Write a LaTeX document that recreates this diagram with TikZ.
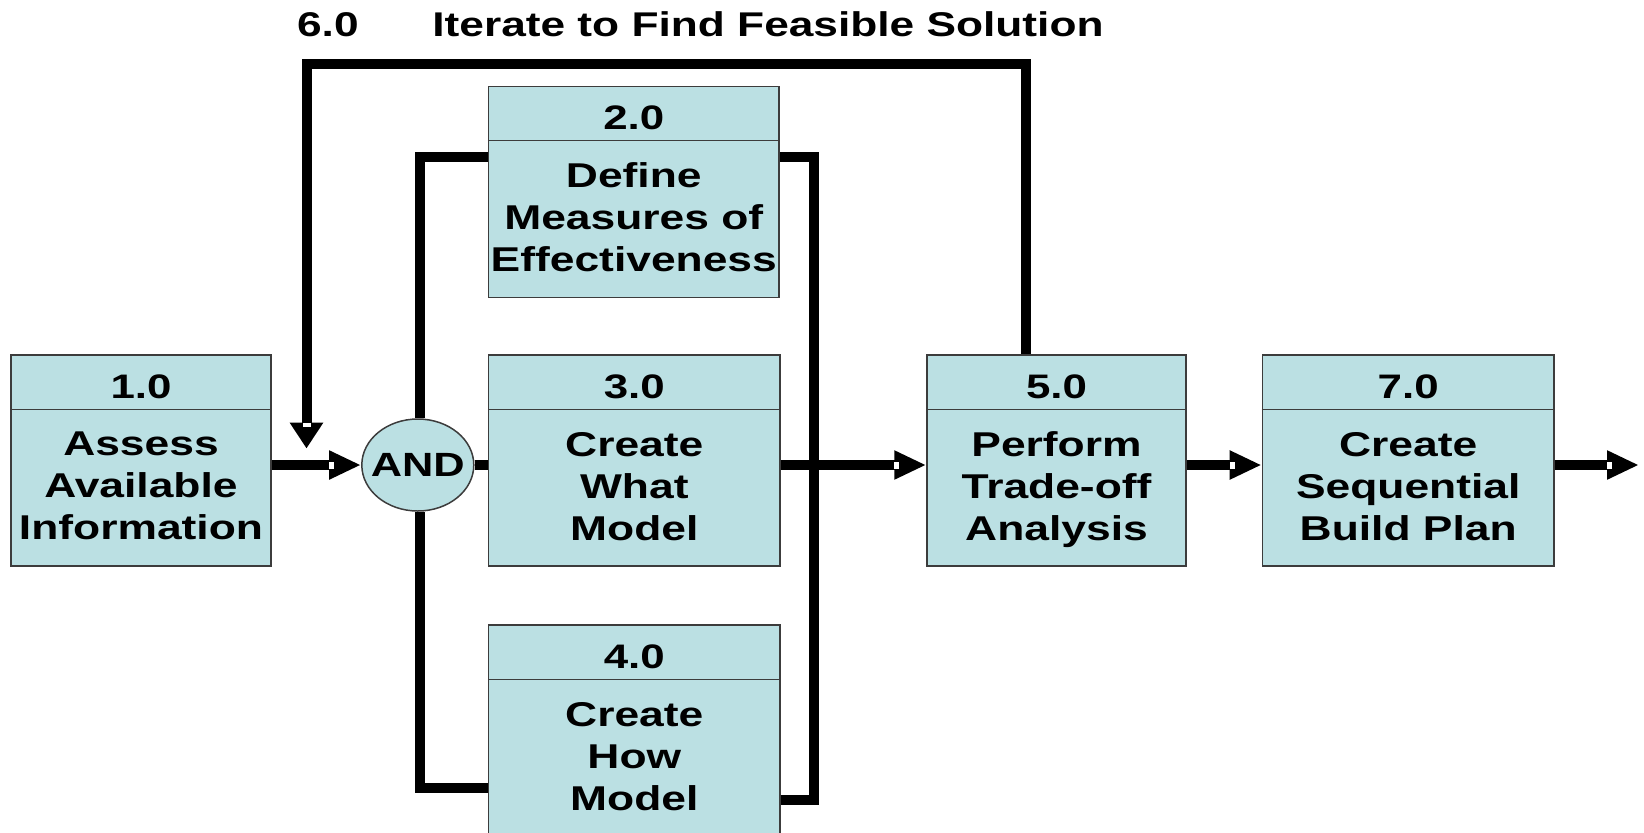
\documentclass[tikz,border=0pt]{standalone}
\usepackage{fontspec}
\setmainfont{Liberation Sans}[FakeStretch=1.29]
\usetikzlibrary{arrows.meta,calc,shapes.geometric}

\definecolor{boxfill}{RGB}{187,224,227}
\definecolor{boxline}{RGB}{60,60,60}

\tikzset{
  box/.style={draw=boxline, line width=0.75pt, fill=boxfill, rectangle,
              inner sep=0pt, minimum height=105.5pt},
  divider/.style={draw=boxline, line width=0.75pt},
  headtxt/.style={font=\fontsize{17}{20}\selectfont\bfseries, inner sep=0pt},
  bodytxt/.style={font=\fontsize{17.2}{21}\selectfont\bfseries, align=center, inner sep=0pt},
  andnode/.style={ellipse, draw=boxline, line width=0.75pt, fill=boxfill,
                  minimum width=56pt, minimum height=46pt, inner sep=0pt},
  andtxt/.style={font=\fontsize{16.8}{20}\selectfont\bfseries, inner sep=0pt},
  titletxt/.style={font=\fontsize{17.15}{20}\selectfont\bfseries, inner sep=0pt, anchor=base west},
  link/.style={line width=5pt, line join=miter},
  flowh/.style={link, -{Triangle[length=16pt, width=13.5pt]}},
  flowv/.style={link, -{Triangle[length=13pt, width=16pt]}},
  notchh/.style={fill=white, inner sep=0pt, minimum width=2.5pt, minimum height=3.5pt},
  notchv/.style={fill=white, inner sep=0pt, minimum width=4pt, minimum height=2pt},
}

\begin{document}
\begin{tikzpicture}[x=0.5pt, y=-0.5pt]
\useasboundingbox (0,0) rectangle (1644,832);
\clip (0,0) rectangle (1644,832);

% process boxes
\node[box, minimum width=130pt]   (b1) at (141,460.5)   {};
\node[box, minimum width=145.2pt] (b2) at (633.8,191.9) {};
\node[box, minimum width=145.7pt] (b3) at (634.3,460.5) {};
\node[box, minimum width=145.7pt] (b4) at (634.3,730.5) {};
\node[box, minimum width=129.5pt] (b5) at (1056.5,460.5) {};
\node[box, minimum width=145.8pt] (b7) at (1408.2,460.5) {};

% header dividers
\foreach \b in {b1,b2,b3,b4,b5,b7}{
  \draw[divider] ($(\b.north west)+(0,55)$) -- ($(\b.north east)+(0,55)$);
}

% headers
\node[headtxt] (b1h) at ($(b1.north)+(0,33)$) {1.0};
\node[headtxt] (b2h) at ($(b2.north)+(0,32)$) {2.0};
\node[headtxt] (b3h) at ($(b3.north)+(0,33)$) {3.0};
\node[headtxt] (b4h) at ($(b4.north)+(0,33)$) {4.0};
\node[headtxt] (b5h) at ($(b5.north)+(0,33)$) {5.0};
\node[headtxt] (b7h) at ($(b7.north)+(0,33)$) {7.0};

% body texts
\node[bodytxt] (b1t) at ($(b1.north)+(0,132)$) {Assess\\Available\\Information};
\node[bodytxt] (b2t) at ($(b2.north)+(0,132)$) {Define\\Measures of\\Effectiveness};
\node[bodytxt] (b3t) at ($(b3.north)+(0,132)$) {Create\\What\\Model};
\node[bodytxt] (b4t) at ($(b4.north)+(0,132)$) {Create\\How\\Model};
\node[bodytxt] (b5t) at ($(b5.north)+(0,135)$) {Perform\\Trade-off\\Analysis};
\node[bodytxt] (b7t) at ($(b7.north)+(0,132)$) {Create\\Sequential\\Build Plan};

% AND junction
\node[andnode] (and) at (417.8,465) {};
\node[andtxt] (andt) at (and.center) {AND};

% title of the iteration loop
\node[titletxt] (t6)  at (296.7,36) {6.0};
\node[titletxt] (t6b) at (432,36)   {Iterate to Find Feasible Solution};

% routing points
\coordinate (lt)  at (420,157);
\coordinate (lb)  at (420,788);
\coordinate (rt)  at (814,157);
\coordinate (rb)  at (814,800);
\coordinate (fbr) at (1025.5,64);
\coordinate (fbl) at (306.5,64);
\coordinate (fbtip) at (306.5,448.5);
\coordinate (out) at (1639,465);

% main flow
\draw[flowh] (b1.east |- and.west) -- (and.west);
\draw[link]  (and.east) -- (and.east -| b3.west);
\draw[flowh] (b3.east |- and.west) -- (b5.west |- and.west);
\draw[flowh] (b5.east |- and.west) -- (b7.west |- and.west);
\draw[flowh] (b7.east |- and.west) -- (out);

% parallel branches
\draw[link] (lt -| b2.west) -- (lt) -- (lt |- and.north);
\draw[link] (lt |- and.south) -- (lb) -- (lb -| b4.west);
\draw[link] (rt -| b2.east) -- (rt) -- (rb) -- (rb -| b4.east);

% iteration feedback
\draw[flowv] (fbr |- b5.north) -- (fbr) -- (fbl) -- (fbtip);

% small gaps at the base of each arrowhead
\node[notchh] (n1) at ($(and.west)+(-29.5,0)$) {};
\node[notchh] (n2) at ($(b5.west |- and.west)+(-29.5,0)$) {};
\node[notchh] (n3) at ($(b7.west |- and.west)+(-29.5,0)$) {};
\node[notchh] (n4) at ($(out)+(-29.5,0)$) {};
\node[notchv] (n5) at ($(fbtip)+(0,-24)$) {};
\end{tikzpicture}
\end{document}
